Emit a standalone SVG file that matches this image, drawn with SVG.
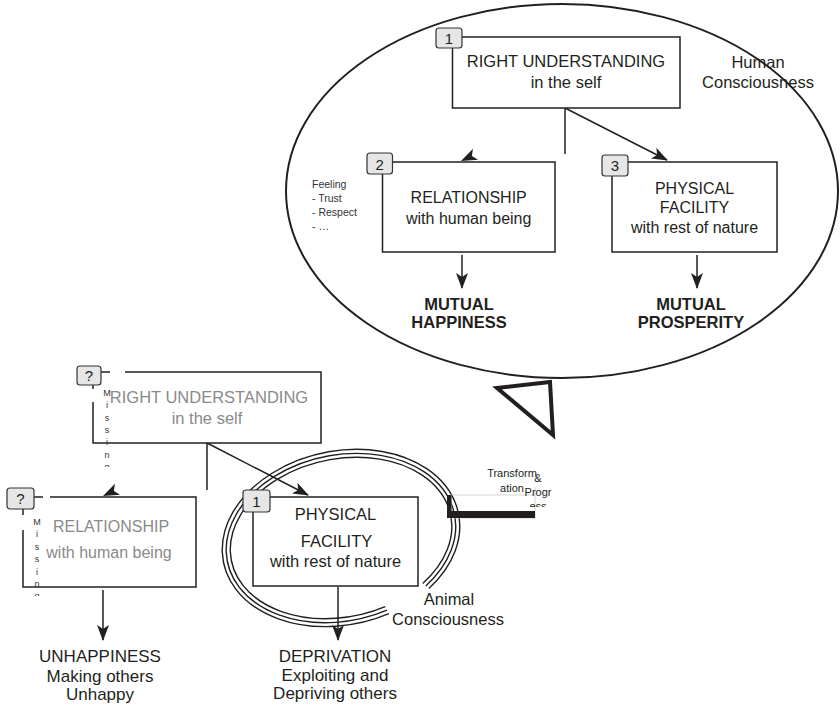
<svg xmlns="http://www.w3.org/2000/svg" width="840" height="706" viewBox="0 0 840 706">
<style>
.box{fill:#fff;stroke:#231f20;stroke-width:1.5}
.bd{fill:none;stroke:#231f20;stroke-width:1.5}
.badge{fill:#e6e6e6;stroke:#333;stroke-width:1.2}
.t{font-family:"Liberation Sans",Arial,sans-serif;fill:#231f20;text-anchor:middle}
.g{fill:#8a8a8a}
.b{font-weight:bold}
.ln{stroke:#231f20;stroke-width:1.5;fill:none}
.ring{fill:none;stroke:#231f20;stroke-width:1.4}
.miss{font-family:"Liberation Sans",Arial,sans-serif;fill:#333;font-size:9px;text-anchor:middle}
</style>
<defs>
<marker id="ah" viewBox="0 0 16 12" refX="15" refY="6" markerWidth="16" markerHeight="12" markerUnits="userSpaceOnUse" orient="auto">
<path d="M0,0 L16,6 L0,12 L4,6 Z" fill="#231f20"/>
</marker>
<clipPath id="cm1"><rect x="95" y="380" width="25" height="87"/></clipPath>
<clipPath id="cm2"><rect x="25" y="510" width="25" height="86"/></clipPath>
<clipPath id="ctp"><rect x="500" y="460" width="70" height="47"/></clipPath>
</defs>
<rect width="840" height="706" fill="#fff"/>

<g id="human-consciousness">
<ellipse cx="562" cy="191" rx="276" ry="187" fill="none" stroke="#231f20" stroke-width="2"/>
<text class="t" font-size="16.5" x="758" y="68">Human</text>
<text class="t" font-size="16.5" x="758" y="88">Consciousness</text>
</g>

<g id="animal-consciousness">
<g transform="translate(341,538) rotate(-12)">
<path class="ring" d="M31.1,84 A120,87 0 1 1 75.5,67.6"/>
<path class="ring" d="M30,80.2 A116,83 0 1 1 73,64.5"/>
<path class="ring" d="M29,76.3 A112,79 0 1 1 70.5,61.4"/>
</g>
<text class="t" font-size="16.5" x="449" y="605">Animal</text>
<text class="t" font-size="16.5" x="448" y="625">Consciousness</text>
</g>

<g id="transition">
<polygon points="497,388 550,382 553,435" fill="none" stroke="#231f20" stroke-width="4" stroke-linejoin="miter"/>
<rect x="451" y="495" width="84" height="23" fill="none" stroke="#c8c8c8" stroke-width="0.8"/>
<line x1="535" y1="487" x2="535" y2="495" stroke="#c8c8c8" stroke-width="0.8"/>
<rect x="447" y="495" width="4.5" height="23" fill="#231f20"/>
<rect x="447" y="511" width="88" height="7" fill="#231f20"/>
<text class="t" font-size="11" x="512" y="477">Transform</text>
<text class="t" font-size="11" x="512" y="492">ation</text>
<g clip-path="url(#ctp)">
<text class="t" font-size="11" x="538" y="482">&amp;</text>
<text class="t" font-size="11" x="538" y="496">Progr</text>
<text class="t" font-size="11" x="538" y="510">ess</text>
</g>
</g>

<g id="connectors">
<line class="ln" x1="565" y1="108" x2="565" y2="154"/>
<line class="ln" x1="565" y1="108" x2="667" y2="160" marker-end="url(#ah)"/>
<path d="M0,0 L-16,-6 L-12,0 L-16,6 Z" fill="#231f20" transform="translate(461,161) rotate(155)"/>
<line class="ln" x1="462" y1="255" x2="462" y2="288" marker-end="url(#ah)"/>
<line class="ln" x1="697" y1="255" x2="697" y2="288" marker-end="url(#ah)"/>
<line class="ln" x1="207" y1="443" x2="207" y2="490"/>
<line class="ln" x1="207" y1="443" x2="308" y2="495" marker-end="url(#ah)"/>
<path d="M0,0 L-16,-6 L-12,0 L-16,6 Z" fill="#231f20" transform="translate(103,496) rotate(155)"/>
<line class="ln" x1="103" y1="590" x2="103" y2="640" marker-end="url(#ah)"/>
<line class="ln" x1="338" y1="587" x2="338" y2="640" marker-end="url(#ah)"/>
</g>

<g id="right-understanding">
<rect class="box" x="452.5" y="37" width="227.5" height="71"/>
<rect class="badge" x="436" y="28" width="26" height="20" rx="3"/>
<text class="t" font-size="15" fill="#333" x="449" y="44">1</text>
<text class="t" font-size="16.5" x="566" y="67">RIGHT UNDERSTANDING</text>
<text class="t" font-size="16.5" x="566" y="88">in the self</text>
</g>

<g id="relationship">
<rect class="box" x="382.5" y="162" width="172.5" height="90"/>
<rect class="badge" x="367" y="153" width="25.5" height="21" rx="3"/>
<text class="t" font-size="15" fill="#333" x="379.7" y="169.5">2</text>
<text class="t" font-size="16" x="468.7" y="203">RELATIONSHIP</text>
<text class="t" font-size="16" x="468.7" y="224">with human being</text>
</g>

<g id="feeling">
<text font-family="Liberation Sans,Arial,sans-serif" font-size="10.5" fill="#333" x="312" y="188">Feeling</text>
<text font-family="Liberation Sans,Arial,sans-serif" font-size="10.5" fill="#333" x="312" y="202">- Trust</text>
<text font-family="Liberation Sans,Arial,sans-serif" font-size="10.5" fill="#333" x="312" y="216">- Respect</text>
<text font-family="Liberation Sans,Arial,sans-serif" font-size="10.5" fill="#333" x="312" y="230">- …</text>
</g>

<g id="physical-facility">
<rect class="box" x="612" y="162" width="165" height="90"/>
<rect class="badge" x="602" y="155" width="26" height="21" rx="3"/>
<text class="t" font-size="15" fill="#333" x="615" y="171">3</text>
<text class="t" font-size="16" x="694.5" y="194">PHYSICAL</text>
<text class="t" font-size="16" x="694.5" y="213">FACILITY</text>
<text class="t" font-size="16" x="694.5" y="233">with rest of nature</text>
</g>

<g id="mutual-happiness">
<text class="t b" font-size="16.5" x="459" y="310">MUTUAL</text>
<text class="t b" font-size="16.5" x="459" y="328">HAPPINESS</text>
</g>

<g id="mutual-prosperity">
<text class="t b" font-size="16.5" x="691" y="310">MUTUAL</text>
<text class="t b" font-size="16.5" x="691" y="328">PROSPERITY</text>
</g>

<g id="ru-missing">
<path class="bd" d="M101,372 H110 M125,372 H321 V443 H93 V402 M93,384 V389"/>
<rect class="badge" x="77" y="366" width="24" height="19" rx="3"/>
<text class="t" font-size="15" fill="#333" x="89" y="381">?</text>
<text class="t g" font-size="16.5" x="209" y="403">RIGHT UNDERSTANDING</text>
<text class="t g" font-size="16.5" x="207" y="424">in the self</text>
<g clip-path="url(#cm1)">
<text class="miss" x="107" y="396">M</text>
<text class="miss" x="107" y="408">i</text>
<text class="miss" x="107" y="420.5">s</text>
<text class="miss" x="107" y="433">s</text>
<text class="miss" x="107" y="445">i</text>
<text class="miss" x="107" y="457.5">n</text>
<text class="miss" x="107" y="470">g</text>
</g>
</g>

<g id="rel-missing">
<path class="bd" d="M34,497 H43 M50,497 H196 V587 H23 V530 M23,509 V515"/>
<rect class="badge" x="7" y="488" width="27" height="21" rx="3"/>
<text class="t" font-size="15" fill="#333" x="20.5" y="504">?</text>
<text class="t g" font-size="16" x="111" y="532">RELATIONSHIP</text>
<text class="t g" font-size="16" x="109" y="558">with human being</text>
<g clip-path="url(#cm2)">
<text class="miss" x="37" y="525">M</text>
<text class="miss" x="37" y="537.4">i</text>
<text class="miss" x="37" y="549.8">s</text>
<text class="miss" x="37" y="562.2">s</text>
<text class="miss" x="37" y="574.6">i</text>
<text class="miss" x="37" y="587">n</text>
<text class="miss" x="37" y="599.4">g</text>
</g>
</g>

<g id="pf-animal">
<rect class="box" x="253" y="497" width="165" height="89"/>
<rect class="badge" x="243" y="490" width="27" height="22" rx="3"/>
<text class="t" font-size="15" fill="#333" x="256.5" y="507">1</text>
<text class="t" font-size="16.5" x="335.5" y="520">PHYSICAL</text>
<text class="t" font-size="16.5" x="336.5" y="547">FACILITY</text>
<text class="t" font-size="16.5" x="335.5" y="567">with rest of nature</text>
</g>

<g id="unhappiness">
<text class="t" font-size="17" x="100" y="662">UNHAPPINESS</text>
<text class="t" font-size="17" x="100" y="682">Making others</text>
<text class="t" font-size="17" x="100" y="700">Unhappy</text>
</g>

<g id="deprivation">
<text class="t" font-size="17" x="335" y="662">DEPRIVATION</text>
<text class="t" font-size="17" x="335" y="681">Exploiting and</text>
<text class="t" font-size="17" x="335" y="699">Depriving others</text>
</g>
</svg>
